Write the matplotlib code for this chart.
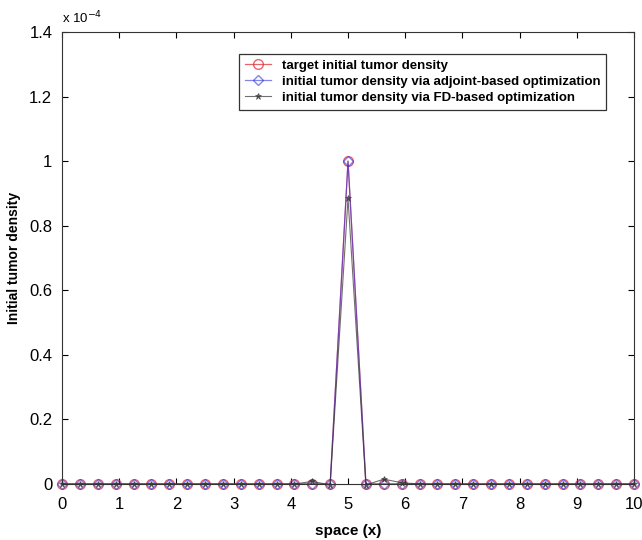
import numpy as np
import matplotlib
matplotlib.use("Agg")
import matplotlib.pyplot as plt
from matplotlib.ticker import FuncFormatter

plt.rcParams['font.family'] = ['Liberation Sans', 'DejaVu Sans']

# grid points in space (33 nodes on [0, 10])
x_space = [0.0, 0.3125, 0.625, 0.9375, 1.25, 1.5625, 1.875, 2.1875, 2.5, 2.8125,
           3.125, 3.4375, 3.75, 4.0625, 4.375, 4.6875, 5.0, 5.3125, 5.625, 5.9375,
           6.25, 6.5625, 6.875, 7.1875, 7.5, 7.8125, 8.125, 8.4375, 8.75, 9.0625,
           9.375, 9.6875, 10.0]

# values in units of 1e-4
target = [0, 0, 0, 0, 0, 0, 0, 0, 0, 0, 0, 0, 0, 0, 0, 0, 1.0, 0,
          0, 0, 0, 0, 0, 0, 0, 0, 0, 0, 0, 0, 0, 0, 0]
adjoint = [0, 0, 0, 0, 0, 0, 0, 0, 0, 0, 0, 0, 0, 0, 0, 0, 1.0, 0,
           0, 0, 0, 0, 0, 0, 0, 0, 0, 0, 0, 0, 0, 0, 0]
fd = [0, 0, 0, 0, 0, 0, 0, 0, 0, 0, 0, 0, 0, 0, 0.008, -0.003, 0.885, -0.003,
      0.015, 0.004, 0, 0, 0, 0, 0, 0, 0, 0, 0, 0, 0, 0, 0]

scale = 1e-4
fig = plt.figure(figsize=(6.42, 5.4), dpi=100)
ax = fig.add_axes([0.0966, 0.1037, 0.891, 0.837])

ax.plot(x_space, np.array(target) * scale, color='#e0303a', marker='o', ms=7,
        mfc='none', mew=1.0, lw=0.9, alpha=0.75, clip_on=False,
        label='target initial tumor density')
ax.plot(x_space, np.array(adjoint) * scale, color='#3030e0', marker='D', ms=5,
        mfc='none', mew=1.0, lw=0.9, alpha=0.6, clip_on=False,
        label='initial tumor density via adjoint-based optimization')
ax.plot(x_space, np.array(fd) * scale, color='#333333', marker='*', ms=5,
        mew=0.6, lw=0.8, alpha=0.7, clip_on=False,
        label='initial tumor density via FD-based optimization')

ax.set_xlim(0, 10)
ax.set_ylim(0, 1.4e-4)
ax.set_xticks(range(0, 11))
ax.set_yticks(np.arange(0, 1.41, 0.2) * scale)
ax.yaxis.set_major_formatter(FuncFormatter(lambda v, p: '%g' % round(v / scale, 4)))
ax.tick_params(direction='in', top=True, right=True, labelsize=12, length=4)
ax.tick_params(axis='x', pad=9)
ax.tick_params(axis='y', pad=7)
ax.text(0.0, 1.012, 'x 10$^{-4}$', transform=ax.transAxes, fontsize=9.5,
        ha='left', va='bottom')
for s in ax.spines.values():
    s.set_color('#333333')

ax.set_xlabel('space (x)', fontsize=11, fontweight='bold', labelpad=9)
ax.set_ylabel('Initial tumor density', fontsize=10, fontweight='bold', labelpad=6)

leg = ax.legend(loc='upper right', bbox_to_anchor=(0.963, 0.967),
                prop={'weight': 'bold', 'size': 9.5}, frameon=True, fancybox=False,
                handlelength=2.0, borderpad=0.45, labelspacing=0.3)
leg.get_frame().set_edgecolor('#333333')
leg.get_frame().set_linewidth(0.9)
leg.get_frame().set_alpha(1)

fig.savefig('out.png', dpi=100)
